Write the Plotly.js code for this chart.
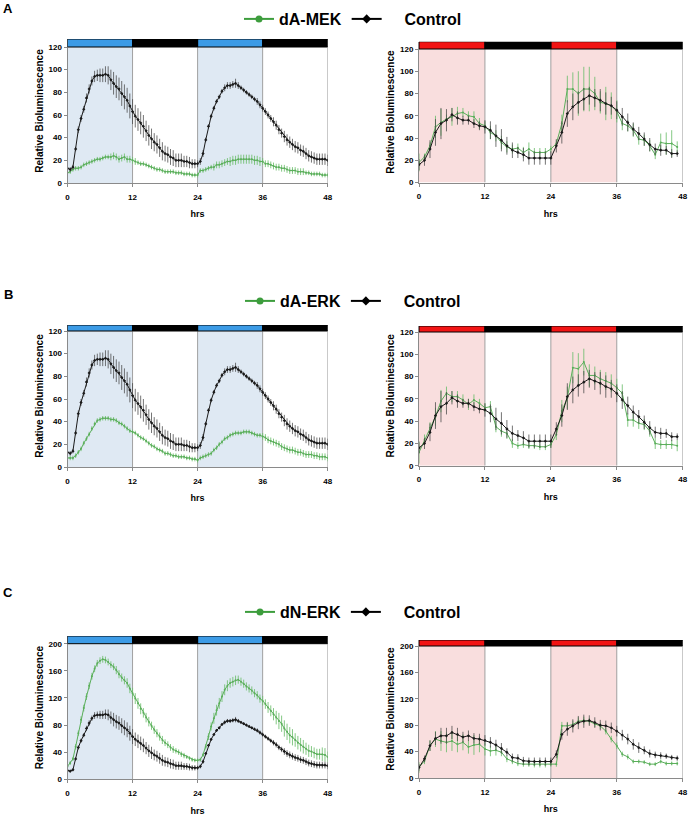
<!DOCTYPE html>
<html><head><meta charset="utf-8">
<script src="https://cdn.plot.ly/plotly-3.0.1.min.js"></script>
<style>html,body{margin:0;padding:0;background:#fff}#chart{width:689px;height:817px}</style>
</head><body><div id="chart"></div>
<script>
// ---- time points ----
const timeHalfHour = [0,0.5,1,1.5,2,2.5,3,3.5,4,4.5,5,5.5,
  6,6.5,7,7.5,8,8.5,9,9.5,10,10.5,11,11.5,
  12,12.5,13,13.5,14,14.5,15,15.5,16,16.5,17,17.5,
  18,18.5,19,19.5,20,20.5,21,21.5,22,22.5,23,23.5,
  24,24.5,25,25.5,26,26.5,27,27.5,28,28.5,29,29.5,
  30,30.5,31,31.5,32,32.5,33,33.5,34,34.5,35,35.5,
  36,36.5,37,37.5,38,38.5,39,39.5,40,40.5,41,41.5,
  42,42.5,43,43.5,44,44.5,45,45.5,46,46.5,47,47.5,
  48];
const timeHour = [0,1,2,3,4,5,6,7,8,9,10,11,12,13,14,15,16,17,18,19,20,21,22,23,
  24,25,26,27,28,29,30,31,32,33,34,35,36,37,38,39,40,41,42,43,44,45,46,47];

// ---- left column (blue light), control ----
const controlLeft = [13,12,14,30,47,57,65,75,83,90,94,95,
  95,95,96,95,91,88,85,83,79,76,73,68,
  63,59,56,53,50,46,42,39,36,34,31,28,
  26,25,23,22,20,20,20,19,19,18,17,17,
  17,19,26,38,50,59,66,72,76,81,84,86,
  86,87,88,86,84,82,80,78,76,74,72,69,
  66,63,60,57,54,51,47,44,41,38,36,34,
  32,31,29,28,26,24,23,22,21,21,21,21,
  20];
const controlLeftErr = [2,2,2,2,3,3,3,4,4,4,5,5,
  6,6,7,8,9,10,10,10,11,11,11,11,
  11,10,10,10,10,9,9,9,8,8,8,8,
  7,7,7,7,6,6,6,5,5,5,4,4,
  3,3,3,2,2,2,2,2,2,2,3,3,
  3,3,4,3,2,2,2,2,2,2,3,3,
  3,3,3,3,4,4,4,4,5,5,5,5,
  5,5,5,5,5,5,5,5,5,5,5,5,
  5];
const dAMEKLeft = [9,10,12,13,13,14,16,17,18,19,20,21,
  21,22,23,23,23,24,23,21,22,23,21,21,
  20,19,18,17,17,16,15,14,13,12,12,11,
  10,10,10,10,9,9,9,8,8,8,7,7,
  7,11,11,12,13,14,14,16,16,17,18,19,
  19,20,20,21,21,21,21,21,21,20,20,19,
  19,17,17,16,15,14,14,13,13,12,11,11,
  11,10,10,10,9,9,8,8,8,8,7,7,
  7];
const dAMEKLeftErr = [2,2,2,2,2,2,2,2,2,2,2,2,
  2,2,2,2,3,3,3,3,3,3,3,3,
  3,3,2,2,2,2,2,2,2,2,2,2,
  2,2,2,2,2,2,2,2,2,2,2,2,
  2,2,2,2,2,2,3,3,3,3,3,3,
  4,4,4,4,4,4,4,4,4,4,4,4,
  3,3,3,3,3,3,3,3,3,3,3,3,
  3,3,3,3,2,2,2,2,2,2,2,2,
  2];
const dAERKLeft = [8,8,8,10,13,16,21,25,29,34,38,41,
  42,43,43,43,42,42,41,39,38,36,34,32,
  31,30,28,26,25,23,21,19,18,16,15,14,
  12,12,11,10,10,9,9,9,8,8,7,7,
  6,8,9,10,11,12,15,17,20,22,25,26,
  28,29,30,30,30,31,31,31,30,29,28,28,
  27,26,24,23,22,21,20,18,17,16,15,15,
  14,13,13,12,11,11,11,10,10,9,9,9,
  8];
const dAERKLeftErr = [2,2,2,2,2,2,2,2,2,2,2,2,
  2,2,2,2,2,2,2,2,2,2,2,2,
  2,2,2,2,2,2,2,2,2,2,2,2,
  2,2,2,2,2,2,2,2,2,2,2,2,
  2,2,2,2,2,2,2,2,2,2,2,2,
  2,2,2,2,2,2,2,2,2,2,2,2,
  3,3,3,3,3,3,3,3,3,3,3,3,
  3,3,3,3,3,3,3,3,3,3,3,3,
  3];
const dNERKLeft = [19,24,30,48,68,88,105,122,138,152,163,171,
  175,177,176,173,169,166,161,155,150,146,142,134,
  127,119,112,104,98,91,85,79,73,68,63,58,
  54,51,47,44,42,40,37,35,33,31,29,28,
  28,29,36,48,63,78,90,102,112,122,132,138,
  142,144,146,147,144,141,137,134,131,127,124,119,
  116,111,106,101,96,91,86,82,75,70,65,62,
  58,54,51,48,45,42,41,39,37,37,37,36,
  33];
const dNERKLeftErr = [3,3,3,4,4,5,5,5,5,5,5,5,
  5,5,5,5,5,5,6,6,6,6,7,7,
  8,8,8,8,7,7,7,6,6,6,6,6,
  5,5,5,5,4,4,4,4,3,3,3,3,
  3,3,3,4,5,6,8,8,8,8,8,8,
  7,7,7,6,6,6,6,6,6,6,6,6,
  7,7,8,8,9,10,12,12,12,12,12,12,
  10,10,10,10,9,9,8,8,8,8,10,10,
  8];

// ---- right column (red light) ----
const controlRightAB = [16,20,30,45,53,56,61,58,56,56,53,51,50,47,42,38,33,29,27,25,22,22,22,22,
  22,33,45,62,68,72,75,78,76,74,71,69,65,59,54,48,44,39,34,30,29,29,26,26];
const controlRightABErr = [5,5,8,12,14,10,6,6,4,4,4,4,6,8,10,10,8,7,5,6,6,6,6,6,
  6,6,10,12,12,10,10,8,8,10,10,8,8,8,8,6,6,6,6,5,5,4,4,3];
const dAMEKRight = [18,23,33,50,54,57,59,62,63,60,59,53,51,45,42,36,32,30,31,27,30,27,27,27,
  30,35,53,84,84,80,84,84,80,72,71,69,64,53,51,47,39,38,33,25,36,35,35,32];
const dAMEKRightErr = [8,3,3,10,12,4,8,6,4,4,5,5,4,6,5,6,5,4,4,5,6,4,4,4,
  3,3,8,12,15,20,20,20,15,10,15,12,10,6,5,6,5,5,5,4,8,10,12,5];
const dAERKRight = [12,23,34,44,58,65,62,62,59,55,59,56,52,53,35,31,29,20,18,19,18,18,17,17,
  19,28,49,61,88,87,93,81,81,78,76,74,70,65,41,41,38,37,31,20,19,19,19,18];
const dAERKRightErr = [10,5,5,8,10,6,5,5,5,5,5,4,4,5,5,5,5,4,3,3,3,3,3,3,
  3,5,10,10,14,14,12,10,8,8,8,8,8,8,6,6,5,5,5,5,4,4,4,5];
const controlRightC = [16,29,49,60,64,64,69,66,62,64,60,59,57,54,50,45,39,31,30,26,25,25,25,25,
  25,36,66,74,79,84,86,87,84,80,79,76,71,65,59,51,46,42,37,35,34,33,31,30];
const controlRightCErr = [5,5,8,10,12,12,10,10,8,8,8,8,8,8,8,8,6,6,6,6,6,6,6,6,
  6,6,8,10,10,10,10,8,8,8,8,8,8,8,8,8,8,6,6,5,5,4,4,4];
const dNERKRight = [16,26,49,59,56,54,56,51,54,47,50,51,44,41,42,39,29,25,22,21,21,20,20,20,
  21,21,79,79,81,86,87,86,82,79,71,59,49,36,32,25,25,24,21,21,25,22,22,22];
const dNERKRightErr = [8,5,8,12,15,15,15,12,12,10,15,12,10,8,8,6,5,4,4,4,4,4,4,4,
  4,4,6,6,6,6,6,5,5,5,5,5,5,4,4,3,3,3,3,3,3,3,3,3];

// ---- labels / ticks ----
const panelLetters = ['A','B','C'];
const treatmentNames = ['dA-MEK','dA-ERK','dN-ERK'];
const controlName = 'Control';
const xTicks = [0,12,24,36,48];
const yTicksAB = [0,20,40,60,80,100,120];
const yTicksC = [0,40,80,120,160,200];
const lightPeriods = [[0,12],[24,36]];
const darkPeriods = [[12,24],[36,48]];
const dividers = [12,24,36,48];
const xAxisTitle = 'hrs';
const yAxisTitle = 'Relative Bioluminescence';

// ---- layout geometry (pixels) ----
const W = 689, H = 817;
const px = v => v / W, py = v => 1 - v / H;
const colLeft = [px(67.5), px(327.7)];
const colRight = [px(419), px(682.7)];
const panelsGeom = [
  {x: colLeft,  y0: 183,   yt: 47,    yb: 39},
  {x: colRight, y0: 182.5, yt: 49,    yb: 41.7},
  {x: colLeft,  y0: 467,   yt: 331,   yb: 325},
  {x: colRight, y0: 465.7, yt: 332,   yb: 326},
  {x: colLeft,  y0: 779.3, yt: 643.7, yb: 636},
  {x: colRight, y0: 778,   yt: 646,   yb: 640}
];
const legendY = [19, 301, 612];
const letterY = [9, 294, 592];

const panelData = [
  {t: timeHalfHour, ctrl: controlLeft, ctrlE: controlLeftErr, trt: dAMEKLeft, trtE: dAMEKLeftErr, ticks: yTicksAB, light: '#3c9be6', shade: '#dfe9f3'},
  {t: timeHour, ctrl: controlRightAB, ctrlE: controlRightABErr, trt: dAMEKRight, trtE: dAMEKRightErr, ticks: yTicksAB, light: '#f21414', shade: '#f9dede'},
  {t: timeHalfHour, ctrl: controlLeft, ctrlE: controlLeftErr, trt: dAERKLeft, trtE: dAERKLeftErr, ticks: yTicksAB, light: '#3c9be6', shade: '#dfe9f3'},
  {t: timeHour, ctrl: controlRightAB, ctrlE: controlRightABErr, trt: dAERKRight, trtE: dAERKRightErr, ticks: yTicksAB, light: '#f21414', shade: '#f9dede'},
  {t: timeHalfHour, ctrl: controlLeft, ctrlE: controlLeftErr, trt: dNERKLeft, trtE: dNERKLeftErr, ticks: yTicksC, light: '#3c9be6', shade: '#dfe9f3'},
  {t: timeHour, ctrl: controlRightC, ctrlE: controlRightCErr, trt: dNERKRight, trtE: dNERKRightErr, ticks: yTicksC, light: '#f21414', shade: '#f9dede'}
];

const GREEN = '#5aae5a', GREEN_ERR = 'rgba(110,190,110,0.85)';
const BLACK = '#1a1a1a', BLACK_ERR = 'rgba(70,70,70,0.75)';
const FONT = 'Liberation Sans, Arial, sans-serif';

const traces = [];
const shapes = [];
const annotations = [];
const layout = {
  width: W, height: H,
  margin: {l: 0, r: 0, t: 0, b: 0},
  paper_bgcolor: '#fff', plot_bgcolor: 'rgba(0,0,0,0)',
  font: {family: FONT, color: '#000'},
  showlegend: true
};

panelData.forEach((p, i) => {
  const n = i + 1;
  const xa = 'x' + (n === 1 ? '' : n), ya = 'y' + (n === 1 ? '' : n);
  const g = panelsGeom[i];
  const topTick = p.ticks[p.ticks.length - 1];
  const rmax = topTick * (g.y0 - g.yb) / (g.y0 - g.yt);
  const axSuffix = n === 1 ? '' : n;
  layout['xaxis' + axSuffix] = {
    domain: g.x, anchor: ya, range: [0, 48], tickvals: xTicks,
    showline: true, linecolor: '#8a8a8a', linewidth: 1, mirror: false,
    ticks: 'outside', ticklen: 3, tickcolor: '#8a8a8a',
    showgrid: false, zeroline: false, fixedrange: true,
    tickfont: {size: 8, weight: 'bold', family: FONT},
    ticklabelstandoff: 3,
    title: {text: xAxisTitle, font: {size: 9, weight: 'bold', family: FONT}, standoff: 10}
  };
  layout['yaxis' + axSuffix] = {
    domain: [py(g.y0), py(g.yb)], anchor: xa, range: [0, rmax], tickvals: p.ticks,
    showline: true, linecolor: '#8a8a8a', linewidth: 1,
    ticks: 'outside', ticklen: 3, tickcolor: '#8a8a8a',
    showgrid: false, zeroline: false, fixedrange: true,
    tickfont: {size: 8, weight: 'bold', family: FONT},
    title: {text: yAxisTitle, font: {size: 10, weight: 'bold', family: FONT}, standoff: 3}
  };
  lightPeriods.forEach(lp => shapes.push({type: 'rect', xref: xa, yref: ya, x0: lp[0], x1: lp[1], y0: 0, y1: topTick,
    fillcolor: p.shade, line: {width: 0}, layer: 'below'}));
  dividers.forEach(d => shapes.push({type: 'line', xref: xa, yref: ya, x0: d, x1: d, y0: 0, y1: topTick,
    line: {color: '#a0a0a0', width: 1}, layer: 'below'}));
  lightPeriods.forEach(lp => shapes.push({type: 'rect', xref: xa, yref: ya, x0: lp[0], x1: lp[1], y0: topTick, y1: rmax,
    fillcolor: p.light, line: {color: '#000', width: 1}, layer: 'above'}));
  darkPeriods.forEach(dp => shapes.push({type: 'rect', xref: xa, yref: ya, x0: dp[0], x1: dp[1], y0: topTick, y1: rmax,
    fillcolor: '#000', line: {color: '#000', width: 1}, layer: 'above'}));

  traces.push({
    x: p.t, y: p.trt, xaxis: xa, yaxis: ya, type: 'scatter', mode: 'lines+markers',
    line: {color: GREEN, width: 1}, marker: {color: GREEN, size: 2, symbol: 'circle'},
    error_y: {type: 'data', array: p.trtE, visible: true, color: GREEN_ERR, thickness: 1, width: 0},
    showlegend: false, hoverinfo: 'skip'
  });
  traces.push({
    x: p.t, y: p.ctrl, xaxis: xa, yaxis: ya, type: 'scatter', mode: 'lines+markers',
    line: {color: BLACK, width: 1}, marker: {color: BLACK, size: 2.5, symbol: 'diamond'},
    error_y: {type: 'data', array: p.ctrlE, visible: true, color: BLACK_ERR, thickness: 1, width: 0},
    showlegend: false, hoverinfo: 'skip'
  });
});

treatmentNames.forEach((name, r) => {
  const lg = r === 0 ? 'legend' : 'legend' + (r + 1);
  const k = 2 * r + 1;
  const xa = 'x' + (k === 1 ? '' : k), ya = 'y' + (k === 1 ? '' : k);
  traces.push({x: [null], y: [null], xaxis: xa, yaxis: ya, type: 'scatter', mode: 'lines+markers', name: name,
    line: {color: '#3d9d3d', width: 2}, marker: {color: '#3d9d3d', size: 7, symbol: 'circle'}, legend: lg, showlegend: true});
  traces.push({x: [null], y: [null], xaxis: xa, yaxis: ya, type: 'scatter', mode: 'lines+markers',
    name: '\u00a0\u00a0\u00a0\u00a0' + controlName,
    line: {color: '#000', width: 2}, marker: {color: '#000', size: 7, symbol: 'diamond'}, legend: lg, showlegend: true});
  layout[lg] = {
    orientation: 'h', x: px(353), xanchor: 'center', y: py(legendY[r]), yanchor: 'middle',
    font: {size: 16, weight: 'bold', family: FONT, color: '#000'}, bgcolor: 'rgba(0,0,0,0)',
    itemclick: false, itemdoubleclick: false, traceorder: 'normal', tracegroupgap: 0
  };
  annotations.push({text: panelLetters[r], xref: 'paper', yref: 'paper', x: px(8), y: py(letterY[r]),
    xanchor: 'center', yanchor: 'middle', showarrow: false, font: {size: 13, weight: 'bold', family: FONT}});
});

layout.shapes = shapes;
layout.annotations = annotations;
Plotly.newPlot('chart', traces, layout, {staticPlot: true, displayModeBar: false});
</script></body></html>
